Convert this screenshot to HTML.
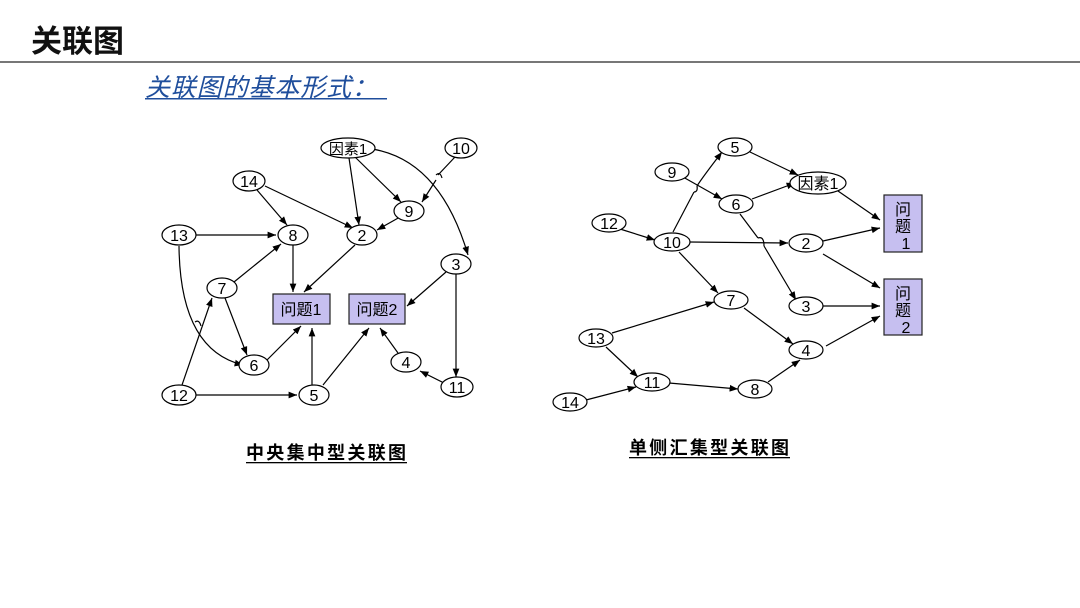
<!DOCTYPE html>
<html><head><meta charset="utf-8"><style>
body{margin:0;width:1080px;height:608px;background:#fff;overflow:hidden}
svg{display:block}
text{font-family:"Liberation Sans","Noto Sans CJK SC",sans-serif}
</style></head><body>
<svg width="1080" height="608" viewBox="0 0 1080 608" xmlns="http://www.w3.org/2000/svg">
<defs><marker id="a" viewBox="0 0 10 10" refX="10" refY="5" markerWidth="7" markerHeight="7" orient="auto"><path d="M0,1 L10,5 L0,9 z" fill="#000"/></marker></defs>
<text x="31" y="52" font-size="31" font-weight="bold" fill="#111">关联图</text>
<rect x="0" y="61" width="1080" height="2" fill="#777"/>
<text x="145" y="96" font-size="25" font-style="italic" fill="#1f4e9c" textLength="232">关联图的基本形式：</text>
<rect x="145" y="98" width="242" height="1.5" fill="#1f4e9c"/>

<g stroke="#000" stroke-width="1.2" fill="none" marker-end="url(#a)">
<line x1="257" y1="190" x2="287" y2="225"/>
<line x1="265" y1="186" x2="353" y2="228"/>
<line x1="349" y1="158" x2="359" y2="225"/>
<line x1="355" y1="157" x2="401" y2="202"/>
<path d="M455 157 L438 175 M436 180 L422 202"/>
<path d="M372 149 Q440 160 468 255"/>
<line x1="400" y1="217" x2="377" y2="230"/>
<line x1="196" y1="235" x2="276" y2="235"/>
<line x1="293" y1="245" x2="293" y2="292"/>
<line x1="355" y1="245" x2="304" y2="292"/>
<line x1="234" y1="282" x2="281" y2="244"/>
<line x1="225" y1="298" x2="247" y2="355"/>
<path d="M179 246 Q180 350 243 365"/>
<line x1="182" y1="385" x2="212" y2="298"/>
<line x1="267" y1="360" x2="301" y2="326"/>
<line x1="312" y1="385" x2="312" y2="328"/>
<line x1="196" y1="395" x2="297" y2="395"/>
<line x1="323" y1="385" x2="369" y2="328"/>
<line x1="446" y1="272" x2="407" y2="306"/>
<line x1="456" y1="274" x2="456" y2="377"/>
<line x1="444" y1="383" x2="420" y2="371"/>
<line x1="398" y1="353" x2="380" y2="328"/>
<line x1="750" y1="152" x2="798" y2="175"/>
<line x1="683" y1="177" x2="722" y2="199"/>
<line x1="752" y1="199" x2="795" y2="183"/>
<line x1="838" y1="191" x2="880" y2="220"/>
<line x1="620" y1="229" x2="655" y2="240"/>
<path d="M673 232 L694 192 M697 186 Q702 178 722 152"/>
<line x1="689" y1="242" x2="788" y2="243"/>
<path d="M740 214 L758 238 M764 246 L796 300"/>
<line x1="823" y1="241" x2="880" y2="228"/>
<line x1="823" y1="254" x2="880" y2="288"/>
<line x1="679" y1="252" x2="718" y2="293"/>
<line x1="823" y1="306" x2="880" y2="306"/>
<line x1="612" y1="333" x2="714" y2="302"/>
<line x1="744" y1="308" x2="793" y2="344"/>
<line x1="826" y1="346" x2="880" y2="316"/>
<line x1="606" y1="347" x2="638" y2="377"/>
<line x1="586" y1="400" x2="636" y2="387"/>
<line x1="669" y1="383" x2="738" y2="389"/>
<line x1="768" y1="382" x2="800" y2="360"/>
</g>
<g stroke="#000" stroke-width="1.2" fill="none">
<path d="M436 175 q4 -4 6 3"/>
<path d="M694 192 q4 0 3 -6"/>
<path d="M758 238 q6 -2 6 8"/>
<path d="M195 322 q4 -3 6 4"/>
</g>

<g stroke="#000" stroke-width="1.2" fill="#fff">
<ellipse cx="348" cy="148" rx="27" ry="10"/>
<ellipse cx="461" cy="148" rx="16" ry="10"/>
<ellipse cx="249" cy="181" rx="16" ry="10"/>
<ellipse cx="409" cy="211" rx="15" ry="10"/>
<ellipse cx="179" cy="235" rx="17" ry="10"/>
<ellipse cx="293" cy="235" rx="15" ry="10"/>
<ellipse cx="362" cy="235" rx="15" ry="10"/>
<ellipse cx="456" cy="264" rx="15" ry="10"/>
<ellipse cx="222" cy="288" rx="15" ry="10"/>
<ellipse cx="254" cy="365" rx="15" ry="10"/>
<ellipse cx="406" cy="362" rx="15" ry="10"/>
<ellipse cx="179" cy="395" rx="17" ry="10"/>
<ellipse cx="314" cy="395" rx="15" ry="10"/>
<ellipse cx="457" cy="387" rx="16" ry="10"/>
<ellipse cx="735" cy="147" rx="17" ry="9"/>
<ellipse cx="672" cy="172" rx="17" ry="9"/>
<ellipse cx="818" cy="183" rx="28" ry="11"/>
<ellipse cx="736" cy="204" rx="17" ry="9"/>
<ellipse cx="609" cy="223" rx="17" ry="9"/>
<ellipse cx="672" cy="242" rx="18" ry="9"/>
<ellipse cx="806" cy="243" rx="17" ry="9"/>
<ellipse cx="731" cy="300" rx="17" ry="9"/>
<ellipse cx="806" cy="306" rx="17" ry="9"/>
<ellipse cx="596" cy="338" rx="17" ry="9"/>
<ellipse cx="806" cy="350" rx="17" ry="9"/>
<ellipse cx="652" cy="382" rx="18" ry="9"/>
<ellipse cx="755" cy="389" rx="17" ry="9"/>
<ellipse cx="570" cy="402" rx="17" ry="9"/>
</g>
<g fill="#c6bff0" stroke="#222" stroke-width="1.2">
<rect x="273" y="294" width="57" height="30"/>
<rect x="349" y="294" width="56" height="30"/>
<rect x="884" y="195" width="38" height="57"/>
<rect x="884" y="279" width="38" height="56"/>
</g>
<g font-size="16" text-anchor="middle" fill="#000">
<text x="348" y="154" font-size="15">因素1</text>
<text x="461" y="154">10</text>
<text x="249" y="187">14</text>
<text x="409" y="217">9</text>
<text x="179" y="241">13</text>
<text x="293" y="241">8</text>
<text x="362" y="241">2</text>
<text x="456" y="270">3</text>
<text x="222" y="294">7</text>
<text x="254" y="371">6</text>
<text x="406" y="368">4</text>
<text x="179" y="401">12</text>
<text x="314" y="401">5</text>
<text x="457" y="393">11</text>
<text x="301" y="315">问题1</text>
<text x="377" y="315">问题2</text>
<text x="735" y="153">5</text>
<text x="672" y="178">9</text>
<text x="818" y="189">因素1</text>
<text x="736" y="210">6</text>
<text x="609" y="229">12</text>
<text x="672" y="248">10</text>
<text x="806" y="249">2</text>
<text x="731" y="306">7</text>
<text x="806" y="312">3</text>
<text x="596" y="344">13</text>
<text x="806" y="356">4</text>
<text x="652" y="388">11</text>
<text x="755" y="395">8</text>
<text x="570" y="408">14</text>
<text x="903" y="215">问</text>
<text x="903" y="232">题</text>
<text x="906" y="249">1</text>
<text x="903" y="299">问</text>
<text x="903" y="316">题</text>
<text x="906" y="333">2</text>
<text x="326" y="459" font-size="18" font-weight="bold" textLength="160">中央集中型关联图</text>
<text x="709" y="454" font-size="18" font-weight="bold" textLength="160">单侧汇集型关联图</text>
</g>
<rect x="246" y="462" width="161" height="1.3" fill="#000"/>
<rect x="629" y="457" width="161" height="1.3" fill="#000"/>
</svg>
</body></html>
